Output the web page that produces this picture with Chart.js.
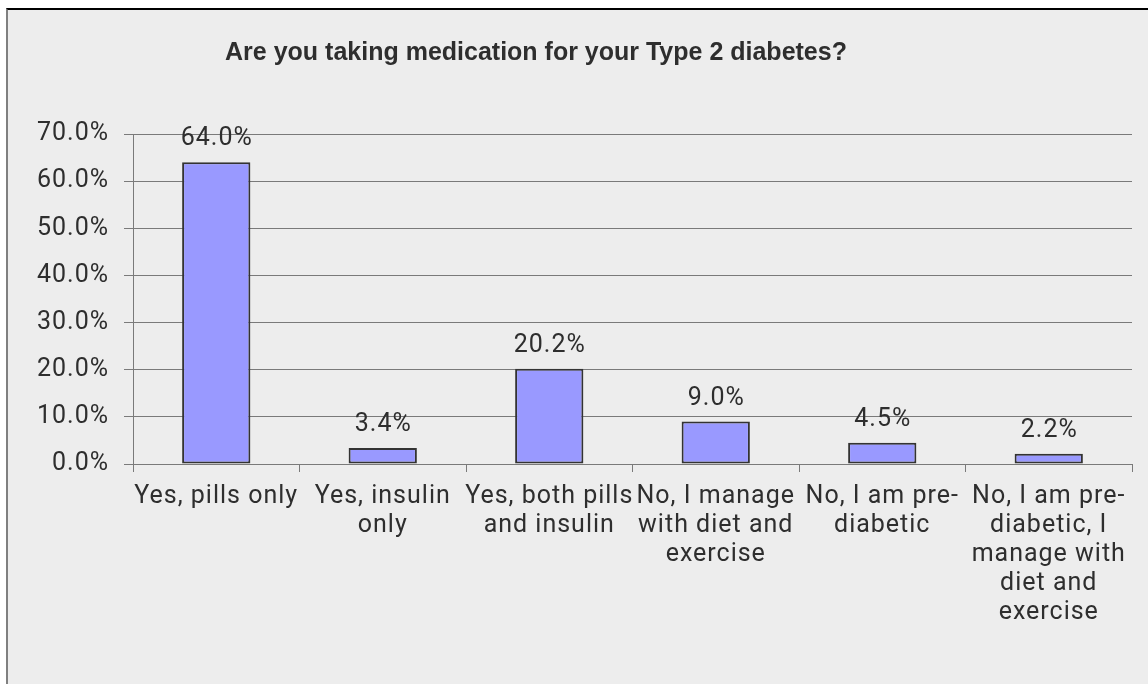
<!DOCTYPE html>
<html>
<head>
<meta charset="utf-8">
<script src="https://cdn.jsdelivr.net/npm/chart.js@4.4.0/dist/chart.umd.min.js"></script>
<style>
  body { margin: 0; background: #ffffff; }
  #frame {
    position: absolute; left: 6px; top: 8px;
    width: 1142px; height: 676px;
    border-top: 2px solid #000000;
    border-left: 2px solid #808080;
    background: #ededed;
  }
  #chart { display: block; }
</style>
</head>
<body>
<div id="frame"><canvas id="chart" width="1140" height="674"></canvas></div>
<script>
var chartTitle = "Are you taking medication for your Type 2 diabetes?";
var categories = [
    ["Yes, pills only"],
    ["Yes, insulin", "only"],
    ["Yes, both pills", "and insulin"],
    ["No, I manage", "with diet and", "exercise"],
    ["No, I am pre-", "diabetic"],
    ["No, I am pre-", "diabetic, I", "manage with", "diet and", "exercise"]
];
var percents = [64.0, 3.4, 20.2, 9.0, 4.5, 2.2];
var yTicks = [0, 10, 20, 30, 40, 50, 60, 70];

var textColor = "#2e2e2e";
var titleFont = "'Liberation Sans', Arial, sans-serif";
var fontName = "Roboto, 'Liberation Sans', sans-serif";
var spacing = "1px";

// the original text is a little spread out, so widen the canvas letter spacing
var spacingPlugin = {
    id: "spacing",
    beforeUpdate: function(chart) { chart.ctx.letterSpacing = spacing; },
    beforeDraw: function(chart) { chart.ctx.letterSpacing = spacing; }
};

// title is drawn left of centre like the original, so place it by hand
var titlePlugin = {
    id: "titleText",
    afterDraw: function(chart) {
        var ctx = chart.ctx;
        ctx.save();
        ctx.letterSpacing = "0px";
        ctx.font = "bold 25px " + titleFont;
        ctx.fillStyle = textColor;
        ctx.textAlign = "center";
        ctx.textBaseline = "middle";
        ctx.fillText(chartTitle, 528, 43);
        ctx.restore();
    }
};

var valuePlugin = {
    id: "valueLabels",
    afterDatasetsDraw: function(chart) {
        var ctx = chart.ctx;
        var meta = chart.getDatasetMeta(0);
        ctx.save();
        ctx.letterSpacing = spacing;
        ctx.font = "25px " + fontName;
        ctx.fillStyle = textColor;
        ctx.textAlign = "center";
        ctx.textBaseline = "alphabetic";
        meta.data.forEach(function(bar, i) {
            ctx.fillText(percents[i].toFixed(1) + "%", bar.x + 0.5, bar.y - 17);
        });
        ctx.restore();
    }
};

var ctx = document.getElementById("chart").getContext("2d");
var chart = new Chart(ctx, {
    type: "bar",
    data: {
        labels: categories,
        datasets: [{
            data: percents,
            backgroundColor: "#9999ff",
            borderColor: "#333333",
            borderWidth: 2,
            borderSkipped: false,
            barPercentage: 0.41,
            categoryPercentage: 1
        }]
    },
    options: {
        responsive: false,
        animation: false,
        devicePixelRatio: 1,
        layout: { padding: { top: 124, right: 16, left: 0, bottom: 0 } },
        plugins: {
            legend: { display: false },
            title: { display: false },
            tooltip: { enabled: false }
        },
        scales: {
            x: {
                offset: true,
                grid: {
                    offset: true,
                    drawOnChartArea: false,
                    drawTicks: true,
                    tickLength: 8,
                    color: "#7a7a7a"
                },
                border: { display: true, color: "#7a7a7a" },
                ticks: {
                    color: textColor,
                    padding: 10,
                    maxRotation: 0,
                    autoSkip: false,
                    font: { family: fontName, size: 25, lineHeight: 1.16 }
                },
                afterFit: function(scale) { scale.height = 220; }
            },
            y: {
                min: 0,
                max: 70,
                afterBuildTicks: function(scale) {
                    scale.ticks = yTicks.map(function(v) { return { value: v }; });
                },
                grid: { color: "#7a7a7a", lineWidth: 1, tickLength: 9 },
                border: { display: true, color: "#7a7a7a" },
                ticks: {
                    color: textColor,
                    padding: 15,
                    font: { family: fontName, size: 25 },
                    callback: function(v) { return v.toFixed(1) + "%"; }
                },
                afterFit: function(scale) { scale.width = 125; }
            }
        }
    },
    plugins: [spacingPlugin, titlePlugin, valuePlugin]
});
</script>
</body>
</html>
